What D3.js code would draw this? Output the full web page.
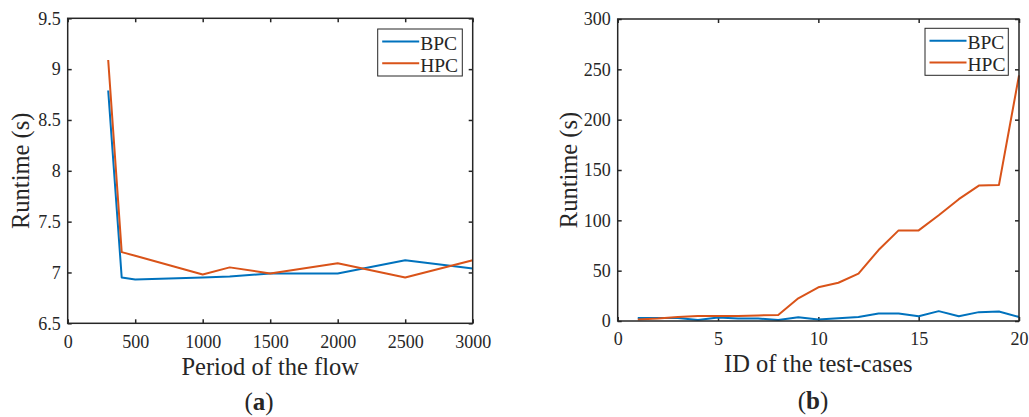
<!DOCTYPE html>
<html>
<head>
<meta charset="utf-8">
<script src="https://cdn.jsdelivr.net/npm/d3@7"></script>
<style>
  html, body { margin: 0; padding: 0; background: #fff; }
  svg { display: block; }
  text { font-family: "Liberation Serif", "Times New Roman", serif; fill: #262626; }
</style>
</head>
<body>
<svg id="fig" width="1029" height="417"></svg>
<script>
// (a) runtime versus period of the flow
const periods = [300, 400, 500, 1000, 1200, 1500, 2000, 2500, 3000];
const bpcPeriod = [8.79, 6.95, 6.93, 6.95, 6.96, 6.99, 6.99, 7.12, 7.04];
const hpcPeriod = [9.09, 7.20, 7.165, 6.98, 7.05, 6.99, 7.09, 6.95, 7.12];
const xTicksA = [0, 500, 1000, 1500, 2000, 2500, 3000];
const yTicksA = [6.5, 7, 7.5, 8, 8.5, 9, 9.5];

// (b) runtime versus test-case ID
const caseIds = [1, 2, 3, 4, 5, 6, 7, 8, 9, 10, 11, 12, 13, 14, 15, 16, 17, 18, 19, 20];
const bpcCases = [3, 3, 3, 1, 3.4, 2.4, 2.4, 1, 3.7, 1.4, 2.7, 4, 7.4, 7.4, 4.7, 9.8, 4.7, 8.8, 9.5, 4];
const hpcCases = [1.5, 2.5, 4, 5, 5, 5, 5.5, 6, 22.5, 33.5, 38, 47, 70.5, 90, 90, 105, 121, 134.5, 135, 244];
const xTicksB = [0, 5, 10, 15, 20];
const yTicksB = [0, 50, 100, 150, 200, 250, 300];

const seriesNames = ["BPC", "HPC"];
const colors = ["#0072BD", "#D95319"];
const serif = '"Liberation Serif", "Times New Roman", serif';

const svg = d3.select("#fig");

function panel(cfg) {
  const g = svg.append("g").attr("font-family", serif);
  const x = d3.scaleLinear().domain(cfg.xDomain).range([cfg.left, cfg.right]);
  const y = d3.scaleLinear().domain(cfg.yDomain).range([cfg.bottom, cfg.top]);
  const fmt = d3.format("~g");

  // axes with inward ticks on all four sides
  const axes = [
    { a: d3.axisBottom(x).tickValues(cfg.xTicks).tickFormat(fmt).tickPadding(cfg.xPad), t: `translate(0,${cfg.bottom})` },
    { a: d3.axisTop(x).tickValues(cfg.xTicks).tickFormat(""), t: `translate(0,${cfg.top})` },
    { a: d3.axisLeft(y).tickValues(cfg.yTicks).tickFormat(fmt).tickPadding(7), t: `translate(${cfg.left},0)` },
    { a: d3.axisRight(y).tickValues(cfg.yTicks).tickFormat(""), t: `translate(${cfg.right},0)` }
  ];
  axes.forEach(d => {
    const ax = g.append("g").attr("transform", d.t)
      .call(d.a.tickSizeInner(-4).tickSizeOuter(0));
    ax.attr("font-family", serif).attr("font-size", 18);
    ax.select(".domain").remove();
    ax.selectAll(".tick line").attr("stroke", "#262626").attr("stroke-width", 1.5);
    ax.selectAll(".tick text")
      .style("font-family", serif)
      .style("font-size", "18px")
      .attr("fill", "#262626");
  });

  // data lines
  const line = d3.line().x(d => x(d[0])).y(d => y(d[1]));
  cfg.series.forEach((vals, i) => {
    g.append("path")
      .datum(cfg.xs.map((v, k) => [v, vals[k]]))
      .attr("fill", "none")
      .attr("stroke", colors[i])
      .attr("stroke-width", 2)
      .attr("stroke-linejoin", "round")
      .attr("d", line);
  });

  // plot frame
  g.append("rect")
    .attr("x", cfg.left).attr("y", cfg.top)
    .attr("width", cfg.right - cfg.left).attr("height", cfg.bottom - cfg.top)
    .attr("fill", "none").attr("stroke", "#262626").attr("stroke-width", 1.5);

  // legend
  const lg = g.append("g");
  lg.append("rect")
    .attr("x", cfg.legX).attr("y", cfg.legY)
    .attr("width", cfg.legW).attr("height", 47)
    .attr("fill", "#fff").attr("stroke", "#262626").attr("stroke-width", 1);
  seriesNames.forEach((name, i) => {
    const ly = cfg.legY + 12.5 + i * 21.7;
    lg.append("line")
      .attr("x1", cfg.legX + 4.5).attr("x2", cfg.legX + 41.5)
      .attr("y1", ly).attr("y2", ly)
      .attr("stroke", colors[i]).attr("stroke-width", 2);
    lg.append("text")
      .attr("x", cfg.legX + 42.5).attr("y", ly + 8.5)
      .style("font-size", "19.5px")
      .text(name);
  });

  // axis titles
  const cx = (cfg.left + cfg.right) / 2;
  g.append("text")
    .attr("x", cx).attr("y", cfg.xTitleY)
    .attr("text-anchor", "middle")
    .style("font-size", "24.5px")
    .text(cfg.xTitle);
  g.append("text")
    .attr("transform", `translate(${cfg.yTitleX},${(cfg.top + cfg.bottom) / 2}) rotate(-90)`)
    .attr("text-anchor", "middle")
    .style("font-size", "24.5px")
    .text("Runtime (s)");

  // panel label
  const lab = g.append("text")
    .attr("x", cfg.labelX).attr("y", cfg.labelY)
    .attr("text-anchor", "middle")
    .style("font-size", "25px");
  lab.append("tspan").text("(");
  lab.append("tspan").attr("font-weight", "bold").text(cfg.label);
  lab.append("tspan").text(")");
}

panel({
  left: 67.7, right: 472.7, top: 18.3, bottom: 323.3,
  xDomain: [0, 3000], yDomain: [6.5, 9.5],
  xTicks: xTicksA, yTicks: yTicksA, xPad: 11.9,
  xs: periods, series: [bpcPeriod, hpcPeriod],
  legX: 377.7, legY: 29, legW: 84.6,
  xTitle: "Period of the flow", xTitleY: 375, yTitleX: 28.5,
  label: "a", labelX: 259, labelY: 410
});

panel({
  left: 617.7, right: 1019, top: 19, bottom: 321,
  xDomain: [0, 20], yDomain: [0, 300],
  xTicks: xTicksB, yTicks: yTicksB, xPad: 11.2,
  xs: caseIds, series: [bpcCases, hpcCases],
  legX: 925, legY: 28.3, legW: 83.3,
  xTitle: "ID of the test-cases", xTitleY: 372, yTitleX: 576.7,
  label: "b", labelX: 813, labelY: 408.5
});
</script>
</body>
</html>
